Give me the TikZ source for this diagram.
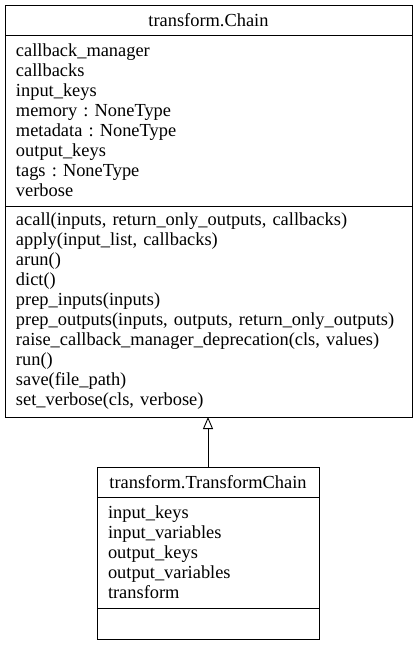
\documentclass[tikz,border=0pt]{standalone}
\usepackage{fontspec}
\setmainfont{Liberation Serif}
\usetikzlibrary{arrows.meta,positioning}

\begin{document}
\frenchspacing
\begin{tikzpicture}[x=1pt,y=-1pt,>=Latex,
  box/.style={draw,line width=0.9pt,inner sep=0pt,outer sep=0pt,font=\fontsize{18.4}{20}\selectfont},
  list/.style={box,align=left}]
\fill[white] (0,0) rectangle (417,645);
\useasboundingbox (0,0) rectangle (417,645);
% parent class
\node[box,minimum width=407pt,minimum height=30pt] (chainT) at (208.5,20) {transform.Chain};
\node[list,minimum width=407pt,minimum height=171pt,text width=385pt,below=0pt of chainT] (chainA)
  {callback\_manager\\callbacks\\input\_keys\\memory : NoneType\\metadata : NoneType\\output\_keys\\tags : NoneType\\verbose};
\node[list,minimum width=407pt,minimum height=211pt,text width=385pt,below=0pt of chainA] (chainM)
  {acall(inputs, return\_only\_outputs, callbacks)\\apply(input\_list, callbacks)\\arun()\\dict()\\prep\_inputs(inputs)\\prep\_outputs(inputs, outputs, return\_only\_outputs)\\raise\_callback\_manager\_deprecation(cls, values)\\run()\\save(file\_path)\\set\_verbose(cls, verbose)};
% child class
\node[box,minimum width=222pt,minimum height=30pt] (transT) at (208,482) {transform.TransformChain};
\node[list,minimum width=222pt,minimum height=111pt,text width=200pt,below=0pt of transT] (transA)
  {input\_keys\\input\_variables\\output\_keys\\output\_variables\\transform};
\node[box,minimum width=222pt,minimum height=31pt,below=0pt of transA] (transM) {};
% inheritance
\draw[line width=0.9pt,-{Triangle[open,length=12pt,width=10pt]}] (transT.north) -- (transT.north |- chainM.south);
\end{tikzpicture}
\end{document}
